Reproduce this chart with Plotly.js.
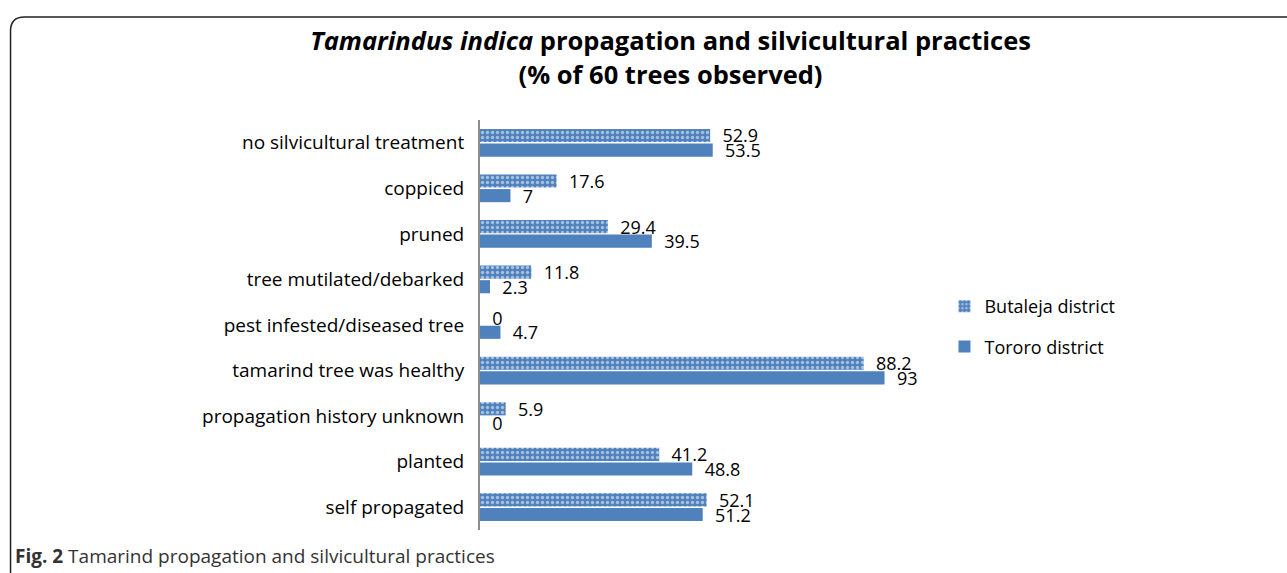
<!DOCTYPE html>
<html><head><meta charset="utf-8">
<script src="https://cdn.plot.ly/plotly-3.0.1.min.js"></script>
<style>html,body{margin:0;padding:0;background:#fff}#chart{width:1287px;height:573px}</style>
</head><body><div id="chart"></div>
<script>
const categories = ["no silvicultural treatment","coppiced","pruned","tree mutilated/debarked","pest infested/diseased tree","tamarind tree was healthy","propagation history unknown","planted","self propagated"];
const butaleja = [52.9,17.6,29.4,11.8,0,88.2,5.9,41.2,52.1];
const tororo = [53.5,7,39.5,2.3,4.7,93,0,48.8,51.2];
const seriesNames = ["Butaleja district","Tororo district"];

const W=1287,H=573, L=480, R=915.5, T=120, B=530;
const px=x=>(x-L)/(R-L), py=y=>(B-y)/(B-T);
const blue="#4F81BD";
const font="'Open Sans', sans-serif";

const traces=[
 {type:'bar',orientation:'h',name:seriesNames[0],y:categories,x:butaleja,legendgroup:'a',
  marker:{color:blue,pattern:{shape:'.',fgcolor:'#ffffff',bgcolor:blue,size:5,solidity:0.35,fillmode:'overlay'}},
  text:butaleja.map(String),texttemplate:'  %{text}',textposition:'outside',cliponaxis:false,constraintext:'none',
  textfont:{family:font,size:18,color:'#000'}},
 {type:'bar',orientation:'h',name:seriesNames[1],y:categories,x:tororo,legendgroup:'b',
  marker:{color:blue},
  text:tororo.map(String),texttemplate:'  %{text}',textposition:'outside',cliponaxis:false,constraintext:'none',
  textfont:{family:font,size:18,color:'#000'}}
];
const r=14;
const frame=`M ${px(10)} ${py(1000)} L ${px(10)} ${py(17+r)} Q ${px(10)} ${py(17)} ${px(10+r)} ${py(17)} L ${px(1300)} ${py(17)}`;
const layout={
 width:W,height:H,margin:{l:L,r:W-R,t:T,b:H-B},
 paper_bgcolor:'#fff',plot_bgcolor:'#fff',
 barmode:'group',bargap:0.36,bargroupgap:0.1,
 title:{text:'<b><i>Tamarindus indica</i> propagation and silvicultural practices<br>(% of 60 trees observed)</b>',
   font:{family:font,size:25.5,color:'#000'},x:0.521,xanchor:'center',y:0.912,yanchor:'middle'},
 xaxis:{range:[0,100],visible:false,showgrid:false,zeroline:false,fixedrange:true},
 yaxis:{autorange:'reversed',showline:true,linecolor:'#8c8c8c',linewidth:2,ticks:'',
   tickfont:{family:font,size:19,color:'#000'},ticklabelstandoff:10,showgrid:false},
 legend:{x:px(945),y:py(288),xanchor:'left',yanchor:'top',traceorder:'grouped',
   font:{family:font,size:18,color:'#000'},tracegroupgap:14,bgcolor:'rgba(0,0,0,0)'},
 showlegend:true,
 shapes:[{type:'path',xref:'paper',yref:'paper',path:frame,line:{color:'#222',width:1.5}}],
 annotations:[{xref:'paper',yref:'paper',x:px(12),y:py(556),xanchor:'left',yanchor:'middle',showarrow:false,
   text:'<b>Fig. 2</b> Tamarind propagation and silvicultural practices',font:{family:font,size:19,color:'#333'}}]
};
Plotly.newPlot('chart',traces,layout,{displayModeBar:false,staticPlot:true});
</script></body></html>
